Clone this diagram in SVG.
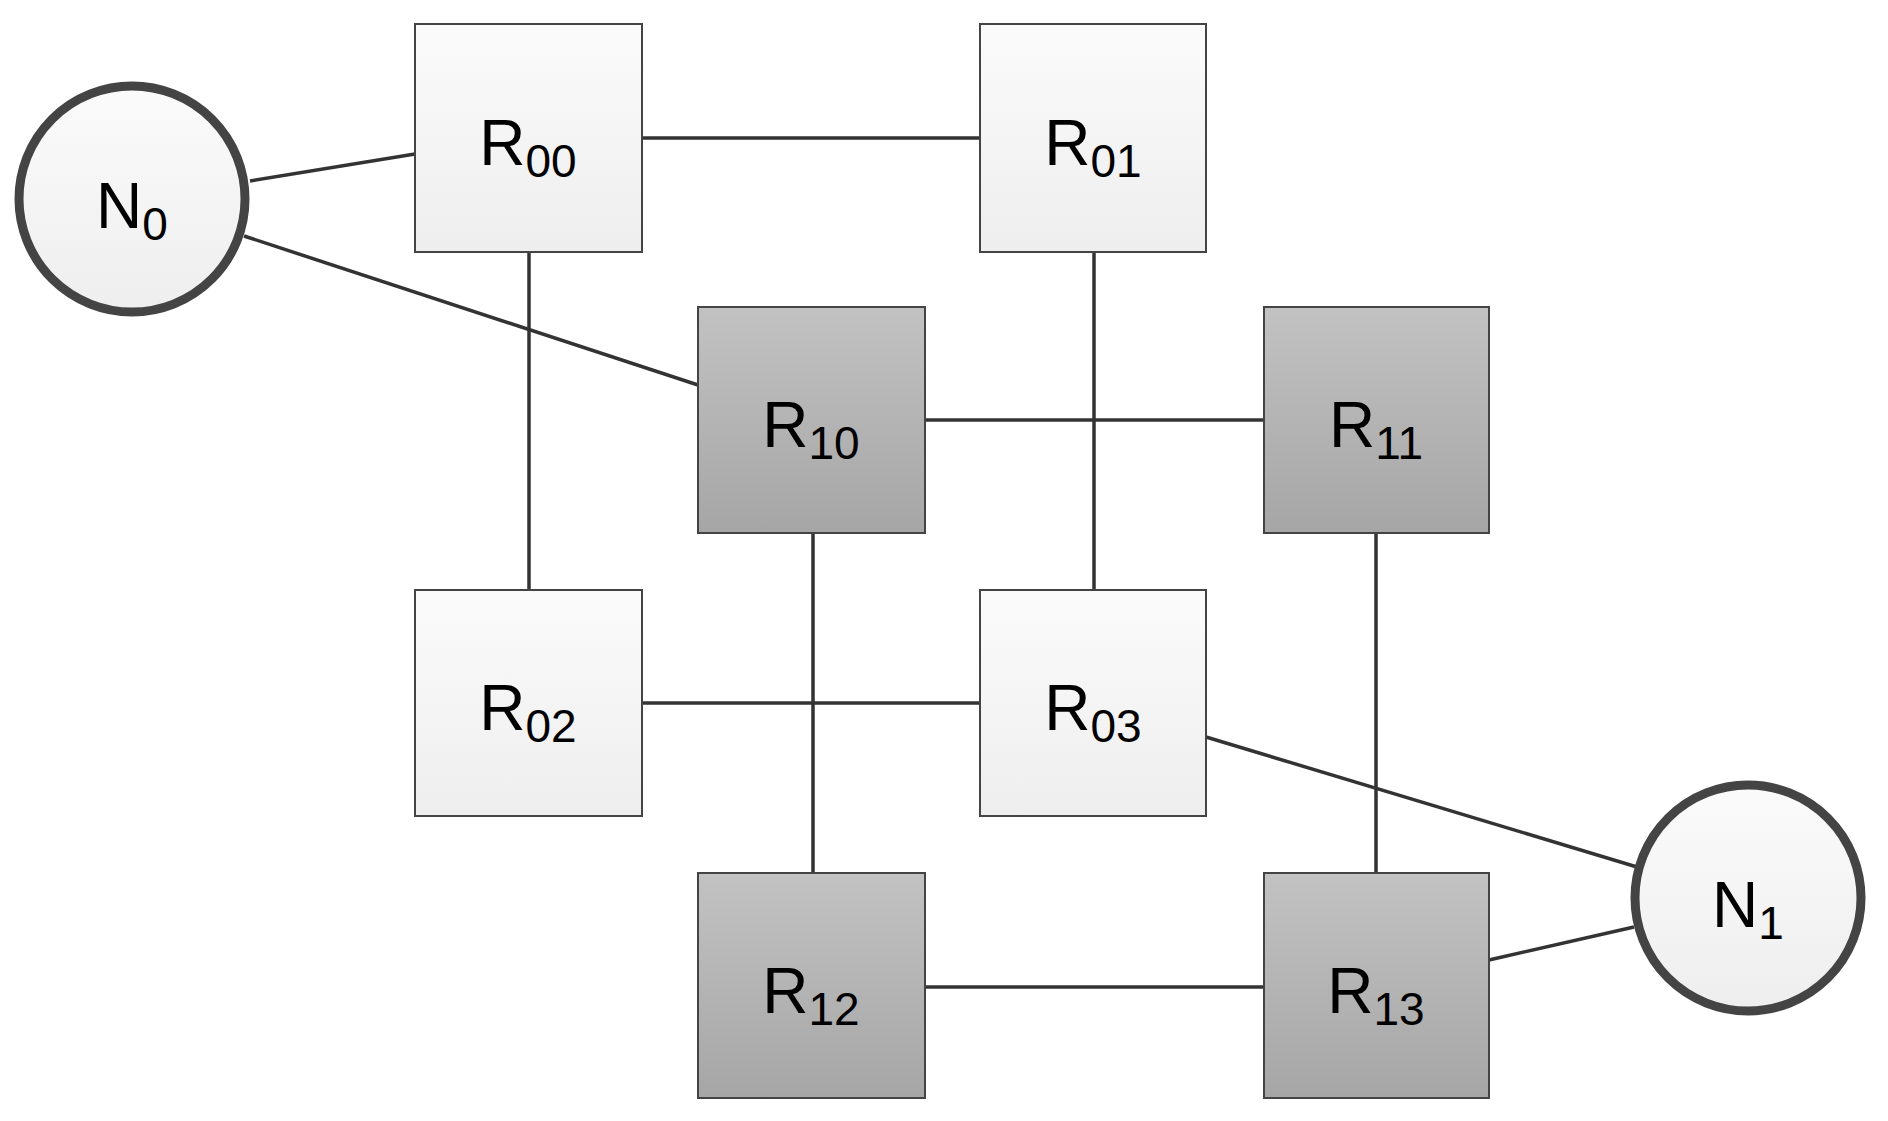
<svg xmlns="http://www.w3.org/2000/svg" width="1888" height="1121" viewBox="0 0 1888 1121">
<defs>
<linearGradient id="gl" x1="0" y1="0" x2="0" y2="1"><stop offset="0" stop-color="#fbfbfb"/><stop offset="1" stop-color="#eeeeee"/></linearGradient>
<linearGradient id="gd" x1="0" y1="0" x2="0" y2="1"><stop offset="0" stop-color="#c2c2c2"/><stop offset="1" stop-color="#a6a6a6"/></linearGradient>
</defs>
<style>
.l{fill:url(#gl);stroke:#444;stroke-width:2}
.d{fill:url(#gd);stroke:#444;stroke-width:2}
.c{fill:url(#gl);stroke:#444;stroke-width:9}
text{font-family:"Liberation Sans",Arial,sans-serif;font-size:64px;fill:#000;text-anchor:middle}
.s{font-size:46px}
#conn line{stroke:#333;stroke-width:3.5}
</style>
<rect width="1888" height="1121" fill="#fff"/>
<g id="conn">
<line x1="250" y1="181" x2="415" y2="154"/>
<line x1="244" y1="236" x2="698" y2="385"/>
<line x1="642" y1="138" x2="980" y2="138"/>
<line x1="529" y1="252" x2="529" y2="590"/>
<line x1="1094" y1="252" x2="1094" y2="590"/>
<line x1="925" y1="420" x2="1264" y2="420"/>
<line x1="813" y1="533" x2="813" y2="873"/>
<line x1="1376" y1="533" x2="1376" y2="873"/>
<line x1="642" y1="703" x2="980" y2="703"/>
<line x1="925" y1="987" x2="1264" y2="987"/>
<line x1="1206" y1="737" x2="1637" y2="867"/>
<line x1="1489" y1="960" x2="1634" y2="927"/>
</g>
<g id="N0"><circle class="c" cx="132" cy="199" r="113"/><text x="132" y="228">N<tspan class="s" dy="12">0</tspan></text></g>
<g id="N1"><circle class="c" cx="1748" cy="898" r="113"/><text x="1748" y="927">N<tspan class="s" dy="12">1</tspan></text></g>
<g id="R00"><rect class="l" x="415" y="24" width="227" height="228"/><text x="528" y="165">R<tspan class="s" dy="12">00</tspan></text></g>
<g id="R01"><rect class="l" x="980" y="24" width="226" height="228"/><text x="1093" y="165">R<tspan class="s" dy="12">01</tspan></text></g>
<g id="R10"><rect class="d" x="698" y="307" width="227" height="226"/><text x="811" y="447">R<tspan class="s" dy="12">10</tspan></text></g>
<g id="R11"><rect class="d" x="1264" y="307" width="225" height="226"/><text x="1376" y="447">R<tspan class="s" dy="12">11</tspan></text></g>
<g id="R02"><rect class="l" x="415" y="590" width="227" height="226"/><text x="528" y="730">R<tspan class="s" dy="12">02</tspan></text></g>
<g id="R03"><rect class="l" x="980" y="590" width="226" height="226"/><text x="1093" y="730">R<tspan class="s" dy="12">03</tspan></text></g>
<g id="R12"><rect class="d" x="698" y="873" width="227" height="225"/><text x="811" y="1013">R<tspan class="s" dy="12">12</tspan></text></g>
<g id="R13"><rect class="d" x="1264" y="873" width="225" height="225"/><text x="1376" y="1013">R<tspan class="s" dy="12">13</tspan></text></g>
</svg>
